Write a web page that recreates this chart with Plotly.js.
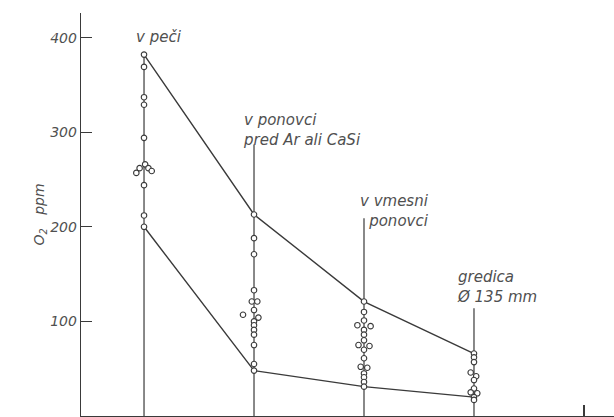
<!DOCTYPE html>
<html>
<head>
<meta charset="utf-8">
<script src="https://cdn.plot.ly/plotly-3.0.1.min.js"></script>
<style>html,body{margin:0;padding:0;background:#fff;}#chart{width:614px;height:417px;}</style>
</head>
<body>
<div id="chart"></div>
<script>
// Sampling stages (category positions 1..4)
const stageNames = ["v peči", "v ponovci<br>pred Ar ali CaSi", "v vmesni<br>ponovci", "gredica<br>Ø 135 mm"];
const stageX = [1, 2, 3, 4];
// Top of each vertical stage line (ppm)
const stemTop = [382, 287, 209, 114];
// Upper and lower envelope lines (ppm)
const upperEnv = [382, 213, 121, 66];
const lowerEnv = [200, 48, 31, 20];

// Individual measurements: x position (stage + small side offset) and O2 ppm
const ptsX1 = [1, 1, 1, 1, 1, 1.01, 0.96, 1.04, 0.93, 1.07, 1.0, 1.0, 1.0];
const ptsY1 = [382, 369, 337, 329, 294, 266, 262, 262, 257, 259, 244, 212, 200];
const ptsX2 = [2, 2, 2, 2, 1.98, 2.03, 1.9, 2, 2.04, 2, 2, 2, 2, 2, 2, 2];
const ptsY2 = [213, 188, 171, 133, 121, 121, 107, 112, 104, 100, 96, 91, 86, 75, 55, 48];
const ptsX3 = [3, 3, 3, 2.94, 3.06, 3, 3, 3, 2.95, 3.05, 3, 3, 2.97, 3.03, 3, 3, 3, 3];
const ptsY3 = [121, 110, 101, 96, 95, 91, 86, 80, 75, 74, 70, 61, 52, 51, 45, 41, 36, 31];
const ptsX4 = [4, 4, 4, 3.97, 4.02, 4, 4, 3.97, 4.03, 4, 4];
const ptsY4 = [66, 62, 57, 46, 42, 38, 29, 25, 24, 20, 17];

// Label anchor points (data coords) for stage captions
const labelX = [1.14, 1.88, 3.61, 3.83];
const labelY = [401, 302, 217, 136];
const labelAnchor = ["center", "left", "right", "left"];

const lineCol = "#3a3a3a";
const textCol = "#505050";
const fnt = {family: "DejaVu Sans", style: "italic", size: 15, color: textCol};

// stems built from stage positions and tops
const stemXs = [], stemYs = [];
stageX.forEach((x, i) => { stemXs.push(x, x, null); stemYs.push(0, stemTop[i], null); });

const traces = [
  {x: stemXs, y: stemYs, mode: "lines", line: {color: lineCol, width: 1.2}, hoverinfo: "skip"},
  {x: stageX, y: upperEnv, mode: "lines", line: {color: lineCol, width: 1.4}},
  {x: stageX, y: lowerEnv, mode: "lines", line: {color: lineCol, width: 1.4}},
];
[[ptsX1, ptsY1], [ptsX2, ptsY2], [ptsX3, ptsY3], [ptsX4, ptsY4]].forEach(([xs, ys]) => {
  traces.push({x: xs, y: ys, mode: "markers",
    marker: {symbol: "circle", size: 5.5, color: "#ffffff", line: {color: lineCol, width: 1.1}}});
});

const annotations = stageNames.map((t, i) => ({
  x: labelX[i], y: labelY[i], xref: "x", yref: "y", text: t, showarrow: false,
  xanchor: labelAnchor[i], align: labelAnchor[i],
  yanchor: "middle", font: fnt
}));
annotations.push({
  xref: "paper", yref: "paper", x: -0.077, y: 0.5, text: "O<sub>2</sub>   ppm",
  textangle: -90, showarrow: false, xanchor: "center", yanchor: "middle",
  font: {family: "DejaVu Sans", style: "italic", size: 14, color: textCol}
});

const layout = {
  width: 614, height: 417,
  margin: {l: 81, r: 0, t: 13, b: 1, pad: 0},
  paper_bgcolor: "#ffffff", plot_bgcolor: "#ffffff",
  showlegend: false,
  xaxis: {range: [0.427, 5.273], showgrid: false, zeroline: false, showline: true,
    linecolor: lineCol, linewidth: 1.3, ticks: "inside", tickvals: [5], ticklen: 11,
    tickcolor: lineCol, tickwidth: 1.2, showticklabels: false},
  yaxis: {range: [0, 426], showgrid: false, zeroline: false, showline: true,
    linecolor: lineCol, linewidth: 1.3, ticks: "inside", tickvals: [100, 200, 300, 400],
    ticklen: 11, tickcolor: lineCol, tickwidth: 1.2,
    tickfont: {family: "DejaVu Sans", style: "italic", size: 14, color: textCol}},
  annotations: annotations
};

Plotly.newPlot("chart", traces, layout, {staticPlot: true, displayModeBar: false});
</script>
</body>
</html>
